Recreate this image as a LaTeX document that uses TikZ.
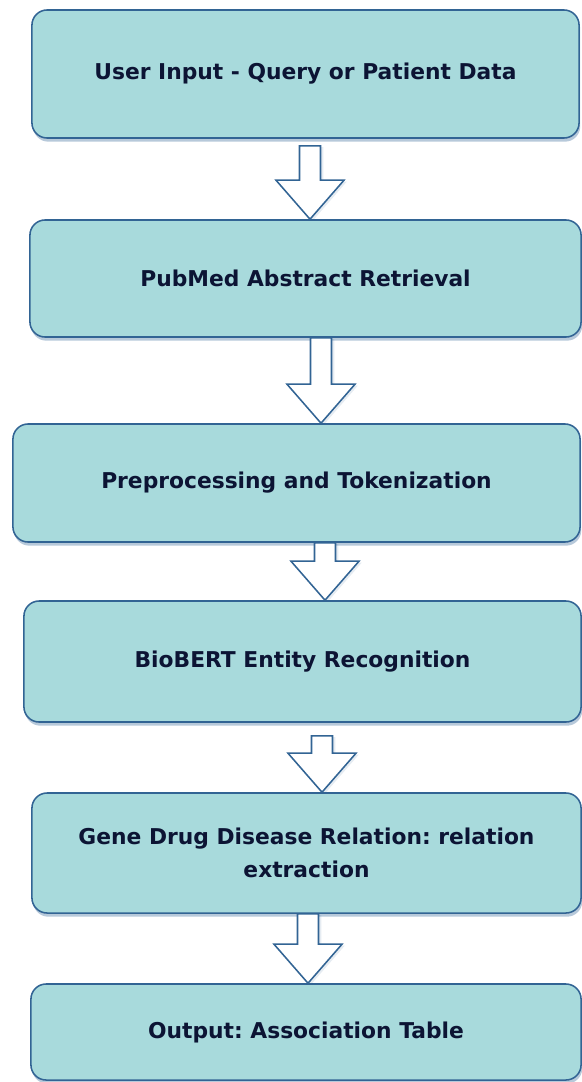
\documentclass[tikz,border=0pt]{standalone}
\usepackage{fontspec}
\setmainfont{DejaVu Sans}
\usepackage{tikz}
\usetikzlibrary{calc,shadows}
\definecolor{boxteal}{RGB}{168,218,220}
\definecolor{edgeblue}{RGB}{50,100,148}
\definecolor{inknavy}{RGB}{12,20,52}
\frenchspacing
\tikzset{
	stage/.style={rectangle, rounded corners=0.38cm, draw=edgeblue, fill=boxteal, line width=1.1pt,
		text=inknavy, font=\bfseries\fontsize{15.5}{23.5}\selectfont, align=center, inner sep=0pt,
		drop shadow={opacity=0.35, fill=edgeblue, shadow xshift=0.8pt, shadow yshift=-2.6pt}},
	blockarrow/.style={draw=edgeblue, fill=white, line width=1.1pt, line join=miter,
		drop shadow={opacity=0.12, fill=edgeblue, shadow xshift=2pt, shadow yshift=-1pt}}
}
% hollow block arrow: from, to, column x (px), gap below the upper box (px)
\newcommand{\flowarrow}[4]{%
	\coordinate (col) at (#3,0);
	\coordinate (top) at ($(col |- #1.south)+(0,#4)$);
	\coordinate (tip) at (col |- #2.north);
	\draw[blockarrow] ($(top)+(-10.5,0)$) -- ($(top)+(10.5,0)$) -- ($(tip)+(10.5,-39)$) -- ($(tip)+(34,-39)$)
		-- (tip) -- ($(tip)+(-34,-39)$) -- ($(tip)+(-10.5,-39)$) -- cycle;
}

\begin{document}
\begin{tikzpicture}[x=0.025cm, y=-0.025cm]
		%%%%% START %%%%%
		\useasboundingbox (0,0) rectangle (581,1082);
		
		\node[stage, minimum width=13.675cm, minimum height=3.2cm] (input) at (305.5,74) {User Input - Query or Patient Data};
		\node[stage, minimum width=13.775cm, minimum height=2.925cm] (retrieval) at (305.5,278.5) {PubMed Abstract Retrieval};
		\node[stage, minimum width=14.175cm, minimum height=2.95cm] (preproc) at (296.5,483) {Preprocessing and Tokenization};
		\node[stage, minimum width=13.925cm, minimum height=3.025cm] (biobert) at (302.5,661.5) {BioBERT Entity Recognition};
		\node[stage, minimum width=13.725cm, minimum height=3.0cm] (relation) at (306.5,853) {Gene Drug Disease Relation: relation\\extraction};
		\node[stage, minimum width=13.75cm, minimum height=2.4cm] (output) at (306,1032) {Output: Association Table};
		
		\flowarrow{input}{retrieval}{310}{7}
		\flowarrow{retrieval}{preproc}{321}{0}
		\flowarrow{preproc}{biobert}{325}{0}
		\flowarrow{biobert}{relation}{322}{13}
		\flowarrow{relation}{output}{308}{0}
		%%%%% END %%%%%
	\end{tikzpicture}
\end{document}
